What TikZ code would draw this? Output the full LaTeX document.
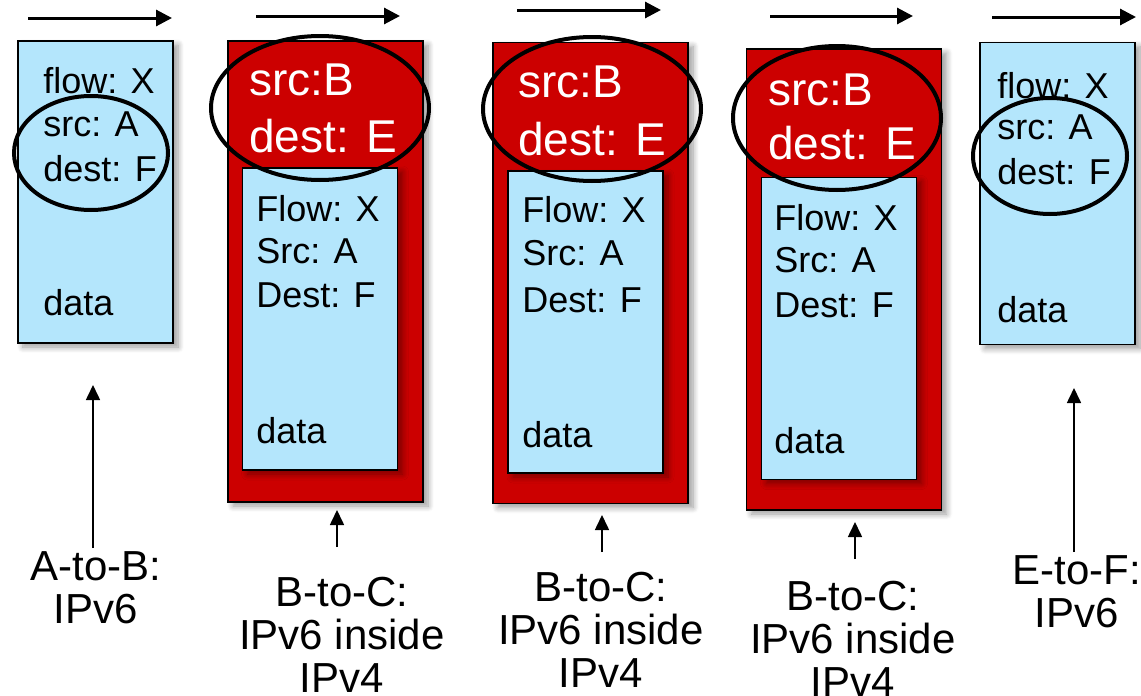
\documentclass[tikz,border=0pt]{standalone}
\usepackage{fontspec}
\setmainfont{Liberation Sans}
\usetikzlibrary{positioning,arrows.meta,shadows.blur}
\definecolor{pktblue}{RGB}{180,230,252}
\definecolor{pktred}{RGB}{204,0,0}
\tikzset{
  pkt6/.style={draw=black, line width=0.6pt, fill=pktblue, inner sep=0pt,
    minimum width=77.5pt, minimum height=151pt,
    blur shadow={shadow xshift=2.5pt, shadow yshift=-2pt, shadow blur radius=3pt, shadow blur steps=8, shadow opacity=40}},
  pkt4/.style={pkt6, fill=pktred, minimum width=97.5pt, minimum height=230.5pt},
  field/.style={anchor=base west, inner sep=0pt, font=\fontsize{18}{21}\selectfont},
  hdr/.style={field, text=white, font=\fontsize{23}{27}\selectfont},
  ring/.style={draw=black, line width=2pt},
  hop/.style={-{Triangle[length=8pt,width=8pt]}, line width=1.5pt},
  up/.style={-{Triangle[length=7.5pt,width=7pt]}, line width=0.8pt},
  lbl/.style={align=center, anchor=base, inner sep=0pt, font=\fontsize{21}{21.5}\selectfont},
}
\begin{document}
\begin{tikzpicture}[x=0.5pt, y=-0.5pt]
\useasboundingbox (0,0) rectangle (1141,696);

% hop arrows on top
\coordinate (h1s) at (28,18);   \coordinate (h1e) at (172,18);
\coordinate (h2s) at (256,16);  \coordinate (h2e) at (400,16);
\coordinate (h3s) at (517,10);  \coordinate (h3e) at (661,10);
\coordinate (h4s) at (770,16);  \coordinate (h4e) at (913,16);
\coordinate (h5s) at (992,17);  \coordinate (h5e) at (1136,17);
\foreach \i in {1,...,5}
  \draw[hop] (h\i s) -- (h\i e);

% A-to-B: plain IPv6
\node[pkt6] (p1) at (95.5,192) {};
\node[field] (p1f) at (43,93)  {flow: X};
\node[field] (p1s) at (43,136) {src: A};
\node[field] (p1d) at (43,181) {dest: F};
\node[field] (p1x) at (43,315) {data};
\draw[ring] (91,153) ellipse (77 and 57);

% B-to-C: IPv6 inside IPv4 (three hops)
\node[pkt4] (p2) at (325.5,271.5) {};
\node[hdr] (p2s) at (249,95)  {src:B};
\node[hdr] (p2d) at (249,152) {dest: E};
\node[pkt6] (q2) at (320,319) {};
\node[field] (q2f) at (256,221) {Flow: X};
\node[field] (q2s) at (256,263) {Src: A};
\node[field] (q2d) at (256,307) {Dest: F};
\node[field] (q2x) at (256,443) {data};
\draw[ring] (320,108) ellipse (109 and 72);

\node[pkt4] (p3) at (590.5,273) {};
\node[hdr] (p3s) at (518,97)  {src:B};
\node[hdr] (p3d) at (518,155) {dest: E};
\node[pkt6] (q3) at (585.5,322) {};
\node[field] (q3f) at (522,222) {Flow: X};
\node[field] (q3s) at (522,265) {Src: A};
\node[field] (q3d) at (522,312) {Dest: F};
\node[field] (q3x) at (522,447) {data};
\draw[ring] (592,109) ellipse (109 and 72);

\node[pkt4] (p4) at (844,279.5) {};
\node[hdr] (p4s) at (768,105) {src:B};
\node[hdr] (p4d) at (768,159) {dest: E};
\node[pkt6] (q4) at (839,328.5) {};
\node[field] (q4f) at (774,230) {Flow: X};
\node[field] (q4s) at (774,272) {Src: A};
\node[field] (q4d) at (774,317) {Dest: F};
\node[field] (q4x) at (774,453) {data};
\draw[ring] (837,118) ellipse (104 and 72);

% E-to-F: plain IPv6 again
\node[pkt6] (p5) at (1057.5,193.5) {};
\node[field] (p5f) at (997,98)  {flow: X};
\node[field] (p5s) at (997,139) {src: A};
\node[field] (p5d) at (997,184) {dest: F};
\node[field] (p5x) at (997,322) {data};
\draw[ring] (1050,156) ellipse (77 and 58);

% link labels (base = last line)
\node[lbl] (l1) at (96,623)  {A-to-B:\\IPv6};
\node[lbl] (l2) at (342,692) {B-to-C:\\IPv6 inside\\IPv4};
\node[lbl] (l3) at (601,687) {B-to-C:\\IPv6 inside\\IPv4};
\node[lbl] (l4) at (853,696) {B-to-C:\\IPv6 inside\\IPv4};
\node[lbl] (l5) at (1077,627) {E-to-F:\\IPv6};

\coordinate (u1s) at (93,548);   \coordinate (u1e) at (93,385);
\coordinate (u2s) at (337,547);  \coordinate (u2e) at (337,510);
\coordinate (u3s) at (602,552);  \coordinate (u3e) at (602,515);
\coordinate (u4s) at (855,559);  \coordinate (u4e) at (855,522);
\coordinate (u5s) at (1074,552); \coordinate (u5e) at (1074,388);
\foreach \i in {1,...,5}
  \draw[up] (u\i s) -- (u\i e);
\end{tikzpicture}
\end{document}
